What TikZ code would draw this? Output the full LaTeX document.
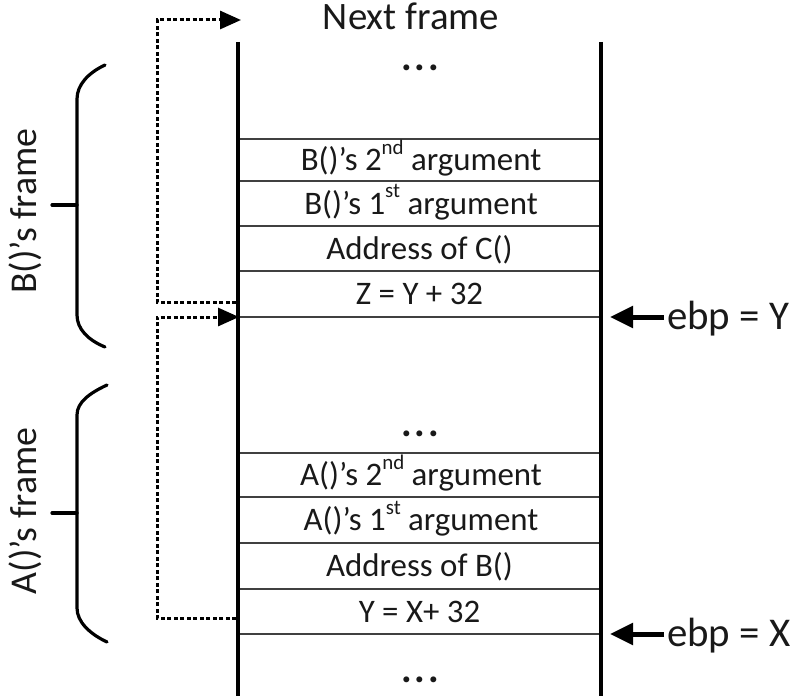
\documentclass[tikz,border=0pt]{standalone}
\usepackage{fontspec}
\setmainfont{Carlito}
\usetikzlibrary{arrows.meta}
\newcommand{\supx}[1]{\raisebox{0.5em}{\fontsize{21}{21}\selectfont #1}}
\begin{document}
\begin{tikzpicture}[x=1bp,y=-1bp,
  wall/.style={line width=4bp,black},
  sep/.style={line width=2bp,black!75},
  celltext/.style={font=\fontsize{33}{40}\selectfont,anchor=base,inner sep=0pt,text=black!90},
  dotstext/.style={font=\fontsize{40}{44}\selectfont\bfseries,anchor=base,inner sep=0pt,text=black!90},
  bigtext/.style={font=\fontsize{39}{44}\selectfont,anchor=base,inner sep=0pt,text=black!90},
  ebptext/.style={font=\fontsize{41}{44}\selectfont,anchor=base west,inner sep=0pt,text=black!90},
  sidetext/.style={font=\fontsize{38}{44}\selectfont,anchor=base,inner sep=0pt,rotate=90,text=black!90},
  dashlink/.style={line width=3bp,dash pattern=on 4bp off 2.5bp,-{Triangle[length=21bp,width=18bp]}},
  ebparrow/.style={line width=5bp,-{Triangle[length=23bp,width=21bp]}},
  bracestyle/.style={line width=3.2bp,line cap=round}]
\useasboundingbox (0,0) rectangle (792,696);

% stack walls
\draw[wall] (238,42) -- (238,696);
\draw[wall] (601,42) -- (601,696);

% cell separators
\foreach \yy in {139,181,226,271,317,453,497,543,589,634}
  \draw[sep] (240,\yy) -- (599,\yy);

% texts
\node[bigtext] (next) at (411,30) {Next frame};
\node[dotstext] (dotsA) at (420,71) {.\kern3bp.\kern3bp.};
\node[celltext] (b2) at (421,170.5) {B()’s 2\supx{nd} argument};
\node[celltext] (b1) at (421,214) {B()’s 1\supx{st} argument};
\node[celltext] (addrC) at (419.5,259) {Address of C()};
\node[celltext] (zcell) at (419.5,304.5) {Z = Y + 32};
\node[dotstext] (dotsB) at (420,436) {.\kern3bp.\kern3bp.};
\node[celltext] (a2) at (421,485.5) {A()’s 2\supx{nd} argument};
\node[celltext] (a1) at (421,530.5) {A()’s 1\supx{st} argument};
\node[celltext] (addrB) at (419.5,576.5) {Address of B()};
\node[celltext] (ycell) at (419.5,622) {Y = X+ 32};
\node[dotstext] (dotsC) at (420,682) {.\kern3bp.\kern3bp.};

% ebp labels
\node[ebptext] (ebpY) at (667,329) {ebp = Y};
\node[ebptext] (ebpX) at (667,646) {ebp = X};
\coordinate (ebpYtail) at (664,317);
\coordinate (ebpXtail) at (664,634);
\coordinate (ebpYtip) at (610,317);
\coordinate (ebpXtip) at (610,634);
\draw[ebparrow] (ebpYtail) -- (ebpYtip);
\draw[ebparrow] (ebpXtail) -- (ebpXtip);

% dashed links
\coordinate (zout) at (236,302);
\coordinate (nextin) at (241,20);
\coordinate (yout) at (236,618);
\coordinate (framein) at (239,317);
\draw[dashlink] (zout) -- ++(-79,0) |- (nextin);
\draw[dashlink] (yout) -- ++(-79,0) |- (framein);

% braces
\draw[bracestyle] (105,65) .. controls (88,73) and (77,85) .. (77,99) -- (77,315)
  .. controls (77,329) and (88,340) .. (105,347);
\draw[bracestyle] (52,205) -- (77,205);
\draw[bracestyle] (107,385) .. controls (90,393) and (77,402) .. (77,415) -- (77,608)
  .. controls (77,622) and (90,634) .. (107,642);
\draw[bracestyle] (52,513) -- (77,513);

\node[sidetext] (bframe) at (36,211) {B()’s frame};
\node[sidetext] (aframe) at (36,511) {A()’s frame};
\end{tikzpicture}
\end{document}
